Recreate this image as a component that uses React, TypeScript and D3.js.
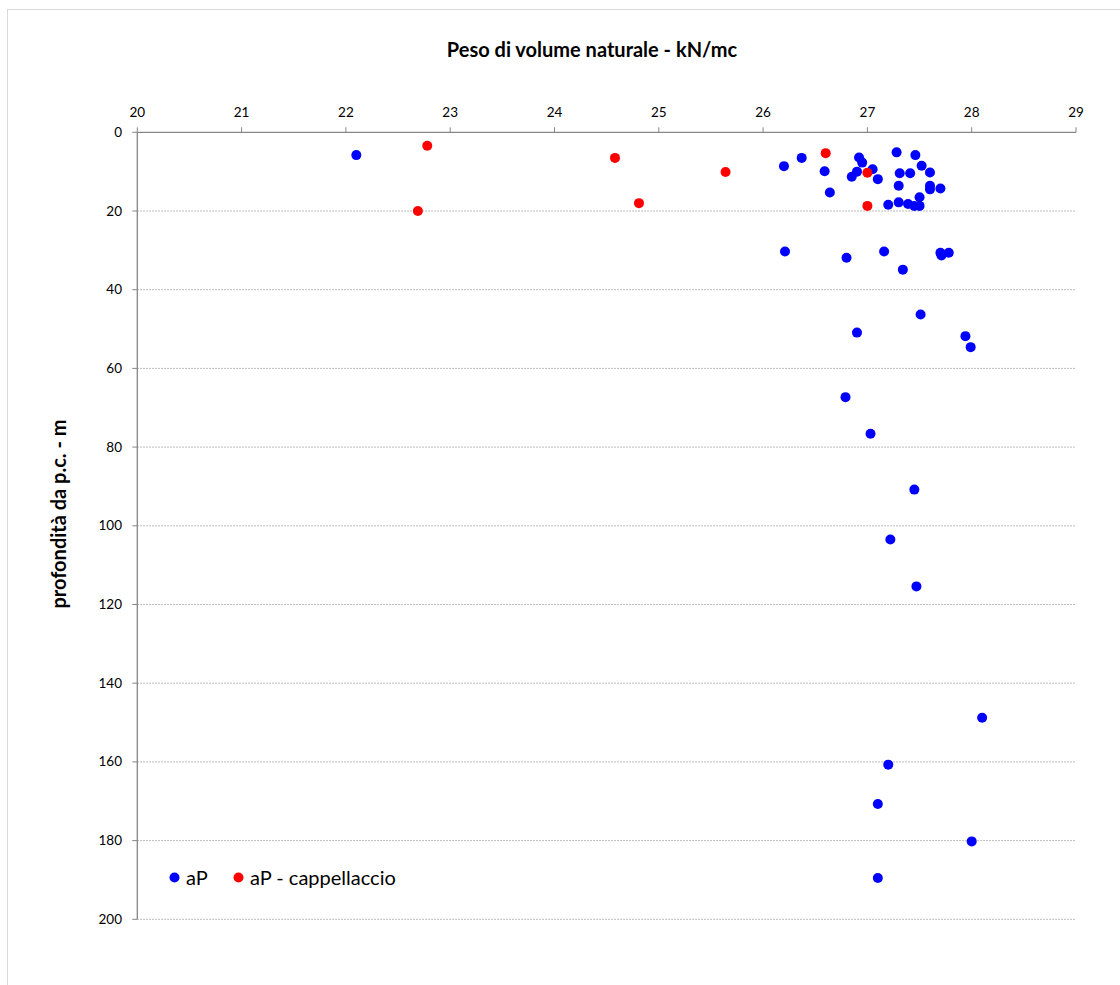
import React from "react";
import * as d3 from "d3";

const xTicks = [20, 21, 22, 23, 24, 25, 26, 27, 28, 29];
const yTicks = [0, 20, 40, 60, 80, 100, 120, 140, 160, 180, 200];

const blueX = [22.10, 26.20, 26.37, 26.59, 26.64, 26.92, 26.95, 26.90, 26.85, 27.05, 27.10, 27.20, 27.28, 27.31, 27.41, 27.46, 27.52, 27.60, 27.30, 27.30, 27.39, 27.45, 27.50, 27.50, 27.60, 27.60, 27.70, 26.21, 26.80, 27.16, 27.34, 27.70, 27.71, 27.78, 27.51, 26.90, 27.94, 27.99, 26.79, 27.03, 27.45, 27.22, 27.47, 28.10, 27.20, 27.10, 28.00, 27.10];
const blueY = [5.8, 8.6, 6.5, 9.9, 15.3, 6.4, 7.7, 10.0, 11.3, 9.4, 11.9, 18.4, 5.1, 10.4, 10.4, 5.8, 8.5, 10.2, 13.6, 17.8, 18.2, 18.7, 18.7, 16.5, 13.6, 14.5, 14.3, 30.3, 31.9, 30.3, 34.9, 30.6, 31.3, 30.6, 46.3, 50.9, 51.8, 54.6, 67.3, 76.6, 90.8, 103.5, 115.4, 148.8, 160.7, 170.7, 180.2, 189.5];

const redX = [22.78, 22.69, 24.58, 24.81, 25.64, 26.60, 27.00, 27.00];
const redY = [3.4, 20.0, 6.5, 18.0, 10.1, 5.3, 10.3, 18.7];

const series = [
  { name: "aP", color: "#0000FF", xs: blueX, ys: blueY },
  { name: "aP - cappellaccio", color: "#FF0000", xs: redX, ys: redY },
];

const FONT = "Lato, 'Open Sans', sans-serif";

export default function App() {
  const x = d3.scaleLinear().domain([20, 29]).range([137.3, 1076]);
  const y = d3.scaleLinear().domain([0, 200]).range([132.3, 919.3]);
  const axisColor = "#868686";

  return (
    <svg width={1120} height={985} style={{ position: "absolute", left: 0, top: 0, background: "#fff" }}>
      <rect x={7.5} y={9.5} width={1200} height={1100} fill="#fff" stroke="#d9d9d9" strokeWidth={1} />
      <text x={592} y={57} textAnchor="middle" fontFamily={FONT} fontWeight="bold" fontSize={20} fill="#000">
        Peso di volume naturale - kN/mc
      </text>
      {yTicks.filter((t) => t > 0).map((t) => (
        <line key={"g" + t} x1={x(20)} x2={x(29)} y1={y(t)} y2={y(t)} stroke="#a6a6a6" strokeWidth={1} strokeDasharray="1.5,1.5" />
      ))}
      <line x1={x(20)} x2={x(29)} y1={y(0)} y2={y(0)} stroke={axisColor} strokeWidth={1.3} />
      <line x1={x(20)} x2={x(20)} y1={y(0)} y2={y(200)} stroke={axisColor} strokeWidth={1.3} />
      {xTicks.map((t) => (
        <g key={"xt" + t}>
          <line x1={x(t)} x2={x(t)} y1={y(0)} y2={y(0) - 5} stroke={axisColor} strokeWidth={1} />
          <text x={x(t)} y={117} textAnchor="middle" fontFamily={FONT} fontSize={13.5} fill="#000">{t}</text>
        </g>
      ))}
      {yTicks.map((t) => (
        <g key={"yt" + t}>
          <line x1={x(20) - 5} x2={x(20)} y1={y(t)} y2={y(t)} stroke={axisColor} strokeWidth={1} />
          <text x={122} y={y(t) + 4.5} textAnchor="end" fontFamily={FONT} fontSize={13.5} fill="#000">{t}</text>
        </g>
      ))}
      <text transform="translate(66,514) rotate(-90)" textAnchor="middle" fontFamily={FONT} fontWeight="bold" fontSize={20} fill="#000">
        profondità da p.c. - m
      </text>
      {series.map((s) => (
        <g key={s.name}>
          {s.xs.map((v, i) => (
            <circle key={i} cx={x(v)} cy={y(s.ys[i])} r={5} fill={s.color} />
          ))}
        </g>
      ))}
      <circle cx={174.5} cy={877.5} r={5} fill="#0000FF" />
      <text x={186} y={884.5} fontFamily={FONT} fontSize={20} fill="#000">aP</text>
      <circle cx={238.5} cy={877.5} r={5} fill="#FF0000" />
      <text x={250} y={884.5} fontFamily={FONT} fontSize={20} fill="#000">aP - cappellaccio</text>
    </svg>
  );
}
